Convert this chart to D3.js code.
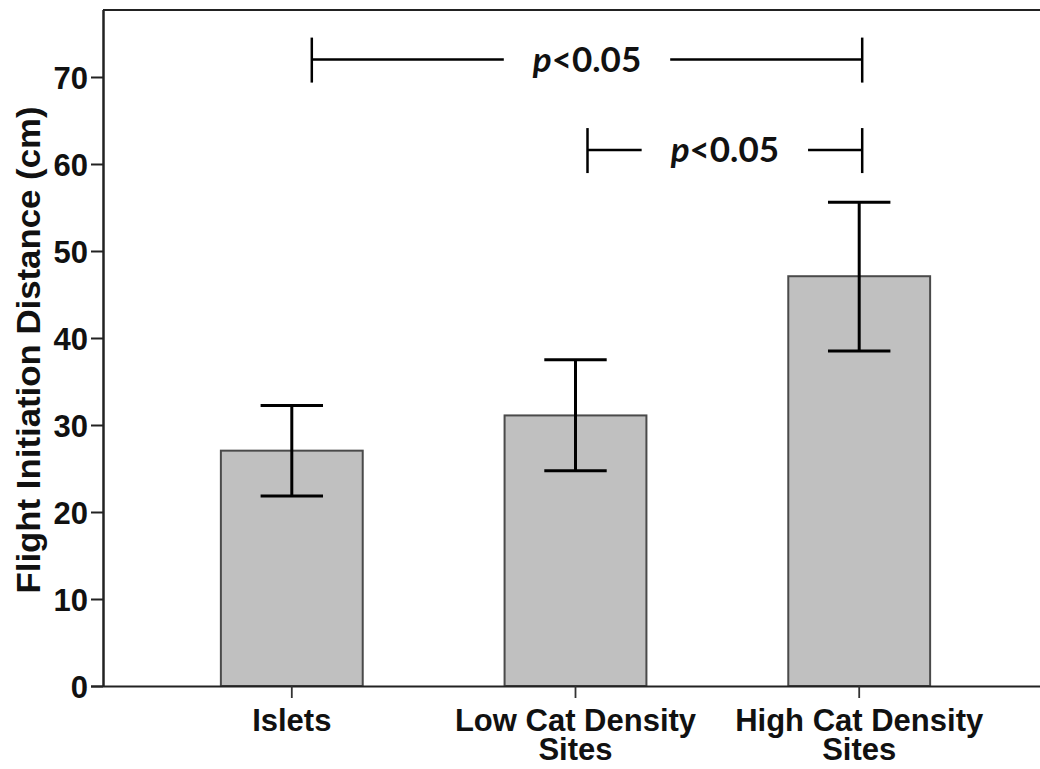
<!DOCTYPE html>
<html>
<head>
<meta charset="utf-8">
<script src="https://cdn.jsdelivr.net/npm/d3@7/dist/d3.min.js"></script>
<style>
  html, body { margin: 0; padding: 0; background: #fff; }
  svg { display: block; }
</style>
</head>
<body>
<svg id="chart" width="1040" height="769"></svg>
<script>
// Mean flight initiation distance (cm) per site type, with error-bar limits
const categories = ["Islets", "Low Cat Density Sites", "High Cat Density Sites"];
const labelLines = [["Islets"], ["Low Cat Density", "Sites"], ["High Cat Density", "Sites"]];
const means = [27.05, 31.1, 47.1];
const errLow = [21.85, 24.75, 38.5];
const errHigh = [32.25, 37.5, 55.6];
const yTicks = [0, 10, 20, 30, 40, 50, 60, 70];

// Pairwise comparisons shown above the bars
const comparisons = [
  { from: "Islets", to: "High Cat Density Sites", level: 72.0, label: "0.05", dxFrom: 20, dxTo: 3 },
  { from: "Low Cat Density Sites", to: "High Cat Density Sites", level: 61.6, label: "0.05", dxFrom: 12, dxTo: 3 }
];

const svg = d3.select("#chart");
const plotLeft = 103, plotTop = 10, plotBottom = 686, plotRight = 1048;

const x = d3.scaleBand().domain(categories).range([plotLeft, plotRight])
  .paddingInner(0.5).paddingOuter(0.4155);
const y = d3.scaleLinear().domain([0, 77.7]).range([plotBottom, plotTop]);

const axisFont = "'Liberation Sans', Arial, sans-serif";

// Top frame line
svg.append("line")
  .attr("x1", plotLeft).attr("x2", 1040).attr("y1", plotTop).attr("y2", plotTop)
  .attr("stroke", "#222").attr("stroke-width", 2);

// Bars
svg.append("g").selectAll("rect").data(categories).join("rect")
  .attr("x", d => x(d))
  .attr("width", x.bandwidth())
  .attr("y", (d, i) => y(means[i]))
  .attr("height", (d, i) => y(0) - y(means[i]))
  .attr("fill", "#c0c0c0")
  .attr("stroke", "#4a4a4a")
  .attr("stroke-width", 2);

// Error bars
const capHalf = x.bandwidth() * 0.22;
const eg = svg.append("g").attr("stroke", "#000").attr("stroke-width", 3);
categories.forEach((c, i) => {
  const cx = x(c) + x.bandwidth() / 2;
  eg.append("line").attr("x1", cx).attr("x2", cx).attr("y1", y(errLow[i])).attr("y2", y(errHigh[i]));
  eg.append("line").attr("x1", cx - capHalf).attr("x2", cx + capHalf).attr("y1", y(errHigh[i])).attr("y2", y(errHigh[i]));
  eg.append("line").attr("x1", cx - capHalf).attr("x2", cx + capHalf).attr("y1", y(errLow[i])).attr("y2", y(errLow[i]));
});

// Y axis
const yAxis = svg.append("g").attr("transform", `translate(${plotLeft},0)`)
  .call(d3.axisLeft(y).tickValues(yTicks).tickSize(12).tickPadding(3).tickSizeOuter(0));
yAxis.select(".domain").attr("stroke", "#222").attr("stroke-width", 2.5)
  .attr("d", `M0.5,${plotTop}V${plotBottom}`);
yAxis.selectAll(".tick line").attr("stroke", "#222").attr("stroke-width", 2);
yAxis.selectAll(".tick text")
  .attr("font-family", axisFont).attr("font-weight", "bold").attr("font-size", 31)
  .attr("fill", "#111").attr("dy", "0.36em");

// X axis
const xAxis = svg.append("g").attr("transform", `translate(0,${plotBottom})`)
  .call(d3.axisBottom(x).tickSize(12).tickSizeOuter(0).tickFormat(""));
xAxis.select(".domain").attr("stroke", "#222").attr("stroke-width", 2)
  .attr("d", `M${plotLeft - 12},0.5H1040`);
xAxis.selectAll(".tick line").attr("stroke", "#333").attr("stroke-width", 1.8);

// Category labels, one text per line
const lab = svg.append("g");
categories.forEach((c, i) => {
  const cx = x(c) + x.bandwidth() / 2;
  labelLines[i].forEach((ln, k) => {
    lab.append("text")
      .attr("x", cx).attr("y", 731 + k * 29)
      .attr("text-anchor", "middle")
      .attr("font-family", axisFont).attr("font-weight", "bold").attr("font-size", 31)
      .attr("fill", "#111")
      .text(ln);
  });
});

// Y axis title
svg.append("text")
  .attr("transform", `translate(40,350) rotate(-90)`)
  .attr("text-anchor", "middle")
  .attr("font-family", axisFont).attr("font-weight", "bold").attr("font-size", 34)
  .attr("textLength", 487).attr("lengthAdjust", "spacingAndGlyphs")
  .attr("fill", "#111")
  .text("Flight Initiation Distance (cm)");

// Significance brackets
const bg = svg.append("g");
comparisons.forEach(cmp => {
  const x0 = x(cmp.from) + x.bandwidth() / 2 + cmp.dxFrom;
  const x1 = x(cmp.to) + x.bandwidth() / 2 + cmp.dxTo;
  const yy = y(cmp.level);
  const mid = (x0 + x1) / 2;
  const txt = bg.append("text")
    .attr("x", mid).attr("y", yy + 12)
    .attr("text-anchor", "middle")
    .attr("font-family", "Lato, 'Open Sans', sans-serif").attr("font-weight", "bold").attr("font-size", 35)
    .attr("fill", "#111");
  txt.append("tspan").attr("font-style", "italic").text("p");
  txt.append("tspan").text("<" + cmp.label);
  const w = txt.node().getComputedTextLength();
  const gap = 29;
  const addLine = (a, b, c, d) => bg.append("line")
    .attr("x1", a).attr("x2", b).attr("y1", c).attr("y2", d)
    .attr("stroke", "#000").attr("stroke-width", 2.5);
  addLine(x0, mid - w / 2 - gap, yy, yy);
  addLine(mid + w / 2 + gap, x1, yy, yy);
  addLine(x0, x0, yy - 22, yy + 23);
  addLine(x1, x1, yy - 22, yy + 23);
});
</script>
</body>
</html>
